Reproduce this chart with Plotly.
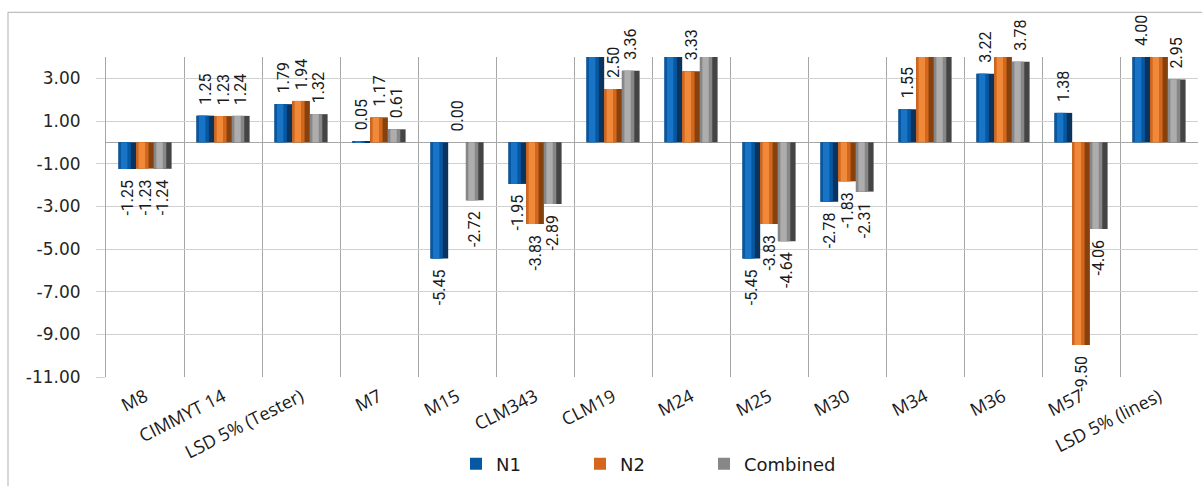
import plotly.graph_objects as go

# Entries along the x axis
categories = ["M8", "CIMMYT 14", "LSD 5% (Tester)", "M7", "M15", "CLM343", "CLM19",
              "M24", "M25", "M30", "M34", "M36", "M57", "LSD 5% (lines)"]

# Effects per environment (values above 4 run off the top of the axis)
n1 = [-1.25, 1.25, 1.79, 0.05, -5.45, -1.95, 4.22, 5.27, -5.45, -2.78, 1.55, 3.22, 1.38, 4.00]
n2 = [-1.23, 1.23, 1.94, 1.17, 0.00, -3.83, 2.50, 3.33, -3.83, -1.83, 6.80, 4.34, -9.50, 4.40]
combined = [-1.24, 1.24, 1.32, 0.61, -2.72, -2.89, 3.36, 4.30, -4.64, -2.31, 4.18, 3.78, -4.06, 2.95]

series_names = ["N1", "N2", "Combined"]
series_values = [n1, n2, combined]

y_tick_values = [-11, -9, -7, -5, -3, -1, 1, 3]
y_max = 4.0
y_min = -11.0

# dark edge, body, highlight for each series
palettes = [
    ("#0a335e", "#0558a2", "#1a74c6"),
    ("#86410f", "#d2671d", "#f08a3a"),
    ("#444444", "#878787", "#adadad"),
]

# plot area in pixels, used to place the per-series legends
plot_left, plot_width = 106, 1092
legend_px = [456, 580, 704]
legend_ids = ["legend", "legend2", "legend3"]

bar_w = 0.227
group_start = -0.34
pad = "\u00a0\u00a0"  # small gap between bar end and its value label

fig = go.Figure()

for i, (name, vals) in enumerate(zip(series_names, series_values)):
    dark, body, light = palettes[i]
    start = group_start + i * bar_w
    # shaded strips give each bar a rounded, cylinder-like look
    strips = [
        (0.0, 1.0, dark, False),
        (0.0, 0.70, body, True),
        (0.14, 0.50, light, False),
    ]
    for a, b, col, show in strips:
        fig.add_trace(go.Bar(
            x=categories, y=vals, name=name,
            offset=start + a * bar_w, width=(b - a) * bar_w,
            marker=dict(color=col, line=dict(width=0)),
            showlegend=show, legend=legend_ids[i],
            cliponaxis=True, hoverinfo="skip" if not show else None,
        ))
    # value labels (only where the bar ends inside the axis range)
    labels = []
    for v in vals:
        if v > y_max:
            labels.append("")
        elif v >= 0:
            labels.append(pad + f"{v:.2f}")
        else:
            labels.append(f"{v:.2f}" + pad)
    fig.add_trace(go.Bar(
        x=categories, y=vals, name=name,
        offset=start, width=bar_w,
        marker=dict(color="rgba(0,0,0,0)", line=dict(width=0)),
        text=labels, textposition="outside", textangle=-90,
        constraintext="none", cliponaxis=False,
        outsidetextfont=dict(family="Liberation Sans Narrow, Arial Narrow, Roboto, sans-serif",
                             size=16, color="#1a1a1a"),
        showlegend=False, hoverinfo="skip",
    ))

legend_font = dict(family="DejaVu Sans", size=18, color="#1a1a1a")
legend_layout = {}
for lid, px in zip(legend_ids, legend_px):
    legend_layout[lid] = dict(
        orientation="h", x=(px - plot_left) / plot_width, xanchor="left",
        y=-0.272, yanchor="middle", font=legend_font, bgcolor="rgba(0,0,0,0)",
    )

fig.update_layout(
    width=1202, height=486,
    barmode="overlay",
    paper_bgcolor="white", plot_bgcolor="white",
    margin=dict(l=106, r=4, t=57, b=106),
    showlegend=True,
    xaxis=dict(
        type="category", range=[-0.5, len(categories) - 0.5],
        tickson="boundaries", showgrid=True, gridcolor="#a6a6a6", gridwidth=1,
        showline=False, ticks="", tickangle=-27, ticklabelstandoff=5,
        tickfont=dict(family="Open Sans", size=18, color="#1a1a1a"),
    ),
    yaxis=dict(
        range=[y_min, y_max], tickvals=y_tick_values,
        ticktext=[f"{v:.2f}" for v in y_tick_values],
        showgrid=True, gridcolor="#d0d0d0", gridwidth=1,
        zeroline=True, zerolinecolor="#a6a6a6", zerolinewidth=1,
        showline=True, linecolor="#a6a6a6", linewidth=1,
        ticks="outside", ticklen=9, tickcolor="#d0d0d0",
        ticklabelstandoff=12,
        tickfont=dict(family="DejaVu Sans", size=17, color="#262626"),
    ),
    shapes=[dict(type="rect", xref="paper", yref="paper",
                 x0=(8 - 106) / 1092, x1=(1215 - 106) / 1092,
                 y0=(380 - 500) / 323, y1=(380 - 12) / 323,
                 line=dict(color="#bfbfbf", width=1.2), fillcolor="rgba(0,0,0,0)",
                 layer="below")],
    **legend_layout,
)

fig.write_html("out.html")
